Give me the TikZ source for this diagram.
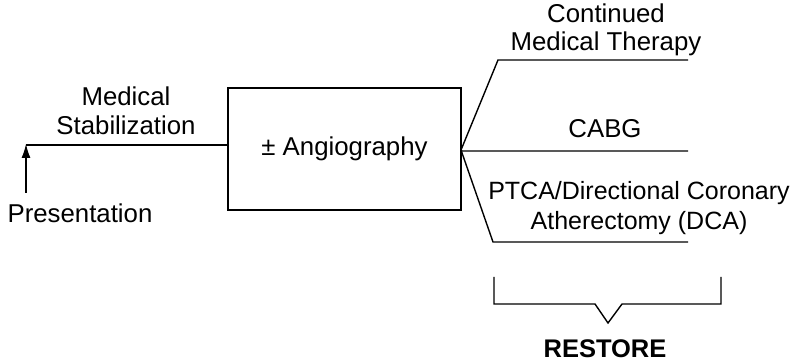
\documentclass[tikz,border=0pt]{standalone}
\usepackage{fontspec}
\setmainfont{Liberation Sans}
\usetikzlibrary{arrows.meta}

\begin{document}
\begin{tikzpicture}[x = 1pt, y = -1pt, line width = 1.4pt,
    lbl/.style = {font = \fontsize{25.8}{28.5}\selectfont, align = center,
      inner sep = 0pt}]
  \useasboundingbox (0, 0) rectangle (798, 363);

  \node[lbl, draw, minimum width = 233, minimum height = 122] (angio)
    at (344.5, 149) {± Angiography};

  \coordinate (start) at (26, 145);
  \coordinate (foot) at (26, 193);
  \coordinate (fork) at (461, 150);

  \draw (start) -- (start -| angio.west);
  \draw[-{Latex[length = 14pt, width = 9pt]}, line width = 1.1pt] (foot) -- ([yshift = 1]start);

  \node[lbl] (stab) at (126, 111) {Medical\\Stabilization};
  \node[lbl] (pres) at (80, 213.5) {Presentation};

  \foreach \n/\x/\y in {cmt/498/60, cabg/462/151, ptca/493/242}{
    \draw (fork) -- (\x, \y) coordinate (\n-s) -- (688, \y) coordinate (\n-e);
  }

  \node[lbl] (cmt) at (606, 30) {Continued\\Medical Therapy};
  \node[lbl] (cabg) at (605, 129) {CABG};
  \node[lbl, font = \fontsize{25}{29.5}\selectfont] (ptca) at (639, 208)
    {PTCA/Directional Coronary\\Atherectomy (DCA)};

  % bracket under the procedures
  \coordinate (bl) at (494, 277);
  \coordinate (br) at (721, 277);
  \coordinate (tip) at (608, 323);
  \draw (bl) -- (494, 304) -- (595, 304) -- (tip) -- (622, 304) -- (721, 304) -- (br);

  \node[lbl, font = \fontsize{25.5}{28}\selectfont\bfseries] (restore) at (605, 348.5) {RESTORE};
\end{tikzpicture}
\end{document}
